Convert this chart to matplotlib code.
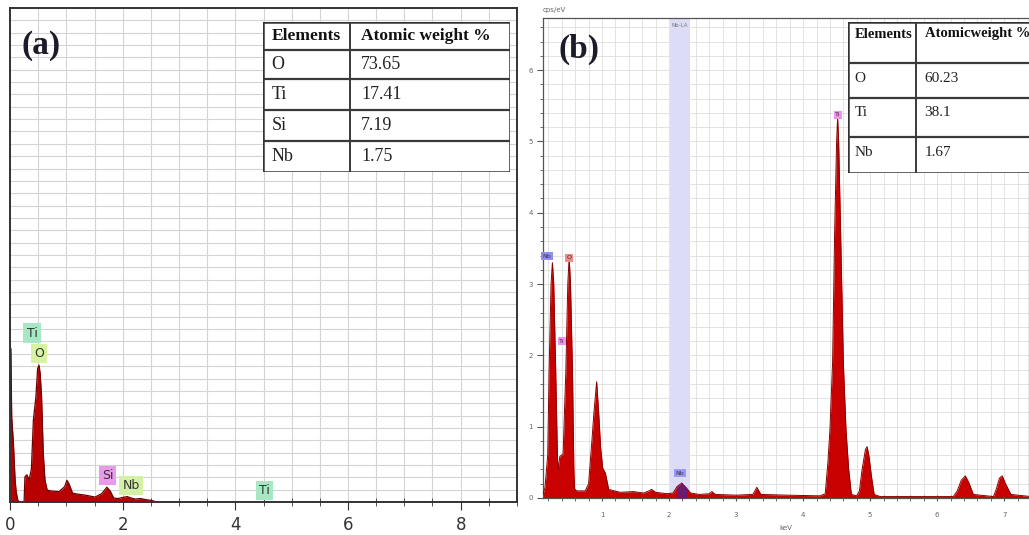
import numpy as np
import matplotlib
matplotlib.use('Agg')
import matplotlib.pyplot as plt
from matplotlib.ticker import MultipleLocator

# ---- panel (a) spectrum (keV, counts in arbitrary units) ----
a_kev = [0.00, 0.015, 0.03, 0.06, 0.09, 0.11, 0.14, 0.17, 0.25, 0.265,
         0.30, 0.34, 0.38, 0.415, 0.46, 0.49, 0.515, 0.535, 0.56, 0.59,
         0.62, 0.66, 0.75, 0.87, 0.97, 1.01, 1.05, 1.11, 1.20, 1.33,
         1.42, 1.51, 1.63, 1.72, 1.78, 1.84, 1.92, 1.99, 2.08, 2.15,
         2.22, 2.32, 2.40, 2.52, 2.60, 9.00]
a_cnt = [31.4, 31.0, 17.2, 12.0, 4.5, 2.0, 0.3, 0.0, 0.0, 5.1,
         5.5, 4.5, 6.7, 16.6, 21.3, 27.0, 27.7, 26.0, 21.3, 9.9,
         4.5, 2.4, 2.2, 2.1, 3.1, 4.4, 3.6, 1.8, 1.6, 1.4,
         1.2, 1.0, 1.7, 3.0, 2.2, 0.8, 0.7, 0.9, 1.1, 0.8,
         0.6, 0.7, 0.5, 0.3, 0.0, 0.0]
a_labels = [("Ti", 0.39, 34.2, "#a6e8c4"), ("O", 0.52, 30.0, "#d8f2a2"),
            ("Si", 1.73, 5.3, "#e79be9"), ("Nb", 2.15, 3.4, "#d4f0a4"),
            ("Ti", 4.52, 2.4, "#a6e8c4")]
a_elements = ["O", "Ti", "Si", "Nb"]
a_weights = ["73.65", "17.41", "7.19", "1.75"]

# ---- panel (b) spectrum (keV, cps/eV) ----
b_kev = [0.12, 0.15, 0.19, 0.21, 0.24, 0.26, 0.28, 0.31, 0.335, 0.345,
         0.37, 0.42, 0.44, 0.46, 0.49, 0.51, 0.53, 0.56, 0.58, 0.59,
         0.62, 0.75, 0.80, 0.85, 0.88, 0.92, 0.95, 0.98, 1.01, 1.05,
         1.10, 1.27, 1.47, 1.62, 1.70, 1.74, 1.80, 1.97, 2.06, 2.12,
         2.19, 2.26, 2.32, 2.45, 2.60, 2.64, 2.69, 3.00, 3.25, 3.31,
         3.37, 3.76, 4.25, 4.33, 4.37, 4.40, 4.44, 4.47, 4.50, 4.515,
         4.53, 4.56, 4.60, 4.64, 4.68, 4.72, 4.80, 4.84, 4.88, 4.93,
         4.955, 4.98, 5.02, 5.06, 5.15, 6.24, 6.30, 6.36, 6.42, 6.47,
         6.54, 6.84, 6.88, 6.93, 6.97, 7.02, 7.10, 7.40]
b_cps = [0.05, 0.15, 0.60, 1.75, 3.00, 3.30, 3.00, 1.75, 0.58, 0.39,
         0.58, 0.62, 1.20, 1.75, 3.00, 3.38, 3.00, 1.75, 0.40, 0.13,
         0.10, 0.10, 0.20, 0.81, 1.20, 1.63, 1.20, 0.70, 0.42, 0.35,
         0.12, 0.08, 0.09, 0.07, 0.10, 0.12, 0.08, 0.06, 0.07, 0.16,
         0.21, 0.14, 0.07, 0.05, 0.06, 0.09, 0.05, 0.04, 0.05, 0.15,
         0.05, 0.04, 0.03, 0.06, 0.50, 0.95, 1.90, 3.70, 5.00, 5.33,
         5.00, 3.70, 1.90, 0.95, 0.40, 0.05, 0.03, 0.10, 0.40, 0.68,
         0.72, 0.60, 0.30, 0.05, 0.02, 0.02, 0.10, 0.25, 0.31, 0.22,
         0.05, 0.02, 0.12, 0.28, 0.31, 0.20, 0.05, 0.02]
b_labels = [("Nb", 0.18, 3.39, "#8f8ff2"), ("O", 0.51, 3.37, "#f08a8a"),
            ("Ti", 0.40, 2.20, "#f092f0"), ("Ti", 4.52, 5.37, "#f092f0"),
            ("Nb", 2.16, 0.35, "#9a9af2")]
b_elements = ["O", "Ti", "Nb"]
b_weights = ["60.23", "38.1", "1.67"]

W, H = 1029, 535
fig = plt.figure(figsize=(W / 100, H / 100), dpi=100)


def px_axes(x0, y0, x1, y1, **kw):
    return fig.add_axes([x0 / W, 1 - y1 / H, (x1 - x0) / W, (y1 - y0) / H], **kw)


def draw_table(ax, header, elems, vals, rows, split, fs_head, fs_body, head_top=False):
    ax.set_xlim(0, 1)
    ax.set_ylim(rows[-1], 0)
    ax.axis('off')
    ax.add_patch(plt.Rectangle((0, 0), 1, rows[-1], fc='white', ec='#333333', lw=1.8))
    for r in rows[1:-1]:
        ax.plot([0, 1], [r, r], color='#3a3a3a', lw=1.6)
    ax.plot([split, split], [0, rows[-1]], color='#3a3a3a', lw=1.4)
    hy = rows[0] + (12 if head_top else (rows[1] - rows[0]) / 2)
    ax.text(0.035, hy, header[0], fontsize=fs_head, fontweight='bold', family='Liberation Serif',
            va='center', ha='left', color='#111111')
    ax.text(split + 0.045, hy, header[1], fontsize=fs_head, fontweight='bold', family='Liberation Serif',
            va='center', ha='left', color='#111111')
    for i, (e, v) in enumerate(zip(elems, vals)):
        y = rows[i + 1] + (15 if head_top else (rows[i + 2] - rows[i + 1]) / 2)
        ax.text(0.035, y, e, fontsize=fs_body, family='Liberation Serif', va='center', color='#222222')
        ax.text(split + 0.045, y, v, fontsize=fs_body, family='Liberation Serif', va='center', color='#222222')


# ================= panel (a) =================
axa = px_axes(10, 8, 517, 502)
axa.fill_between(a_kev, a_cnt, 0, color='#b80000', lw=0)
axa.plot(a_kev, a_cnt, color='#6e0000', lw=0.9)
axa.set_xlim(0, 9)
axa.set_ylim(0, 100)
axa.xaxis.set_major_locator(MultipleLocator(2))
axa.xaxis.set_minor_locator(MultipleLocator(0.5))
axa.yaxis.set_major_locator(MultipleLocator(2.5))
axa.set_yticklabels([])
axa.tick_params(axis='y', length=0)
axa.tick_params(axis='x', which='major', direction='out', length=6, labelsize=12,
                labelcolor='#333333', color='#333333', pad=4)
axa.tick_params(axis='x', which='minor', direction='inout', length=6, color='#333333')
axa.grid(True, which='both', axis='x', color='#d4d4d4', lw=0.8)
axa.grid(True, which='major', axis='y', color='#d4d4d4', lw=0.8)
axa.set_axisbelow(True)
for s in axa.spines.values():
    s.set_color('#333333')
    s.set_linewidth(1.4)
for name, x, y, c in a_labels:
    axa.text(x, y, name, fontsize=9, ha='center', va='center', color='#333333',
             bbox=dict(boxstyle='square,pad=0.25', fc=c, ec='none'))
axa.text(0.022, 0.925, "(a)", transform=axa.transAxes, fontsize=24, fontweight='bold',
         family='Liberation Serif', color='#1b1b2a', va='center')

ta = px_axes(263, 22, 510, 172)
draw_table(ta, ["Elements", "Atomic weight %"], a_elements, a_weights,
           [0, 28, 57, 88, 119, 150], 0.352, 12.5, 13)

# ================= panel (b) =================
axb = px_axes(543, 18, 1029, 498)
axb.axvspan(2.02, 2.31, color='#dcdcf6', lw=0, zorder=1)
kev = np.array(b_kev)
cps = np.array(b_cps)
axb.fill_between(kev, cps, 0, color='#c80000', lw=0, zorder=2)
axb.plot(kev, cps, color='#8a0000', lw=0.7, zorder=3)
nb_win = (kev >= 2.09) & (kev <= 2.31)
axb.fill_between(kev, cps, 0, where=nb_win, color='#6a1a70', lw=0, zorder=3)
axb.set_xlim(0.12, 7.37)
axb.set_ylim(0, 6.73)
axb.xaxis.set_major_locator(MultipleLocator(1))
axb.xaxis.set_minor_locator(MultipleLocator(0.2))
axb.yaxis.set_major_locator(MultipleLocator(1))
axb.yaxis.set_minor_locator(MultipleLocator(0.2))
axb.tick_params(which='both', labelsize=5, labelcolor='#666666', color='#555555')
axb.tick_params(axis='x', which='both', direction='inout', length=4, pad=8)
axb.tick_params(axis='y', which='major', direction='out', length=4)
axb.tick_params(axis='y', which='minor', direction='out', length=2)
axb.grid(True, which='both', color='#dedede', lw=0.6)
axb.set_axisbelow(True)
for s in axb.spines.values():
    s.set_color('#555555')
    s.set_linewidth(0.9)
axb.set_xlabel("keV", fontsize=5, color='#666666', labelpad=5)
axb.text(0.0, 1.01, "cps/eV", transform=axb.transAxes, fontsize=5, color='#666666', va='bottom')
axb.text(2.16, 6.62, "Nb-LA", fontsize=4, color='#777777', ha='center', va='center', zorder=4)
for name, x, y, c in b_labels:
    axb.text(x, y, name, fontsize=4.5, ha='center', va='center', color='#333333', zorder=5,
             bbox=dict(boxstyle='square,pad=0.25', fc=c, ec='none'))
axb.text(0.031, 0.935, "(b)", transform=axb.transAxes, fontsize=24, fontweight='bold',
         family='Liberation Serif', color='#1b1b2a', va='center')

tb = px_axes(848, 22, 1040, 173)
draw_table(tb, ["Elements", "Atomicweight %"], b_elements, b_weights,
           [0, 41, 76, 115, 151], 0.354, 10.5, 11, head_top=True)

fig.savefig("out.png", dpi=100)
